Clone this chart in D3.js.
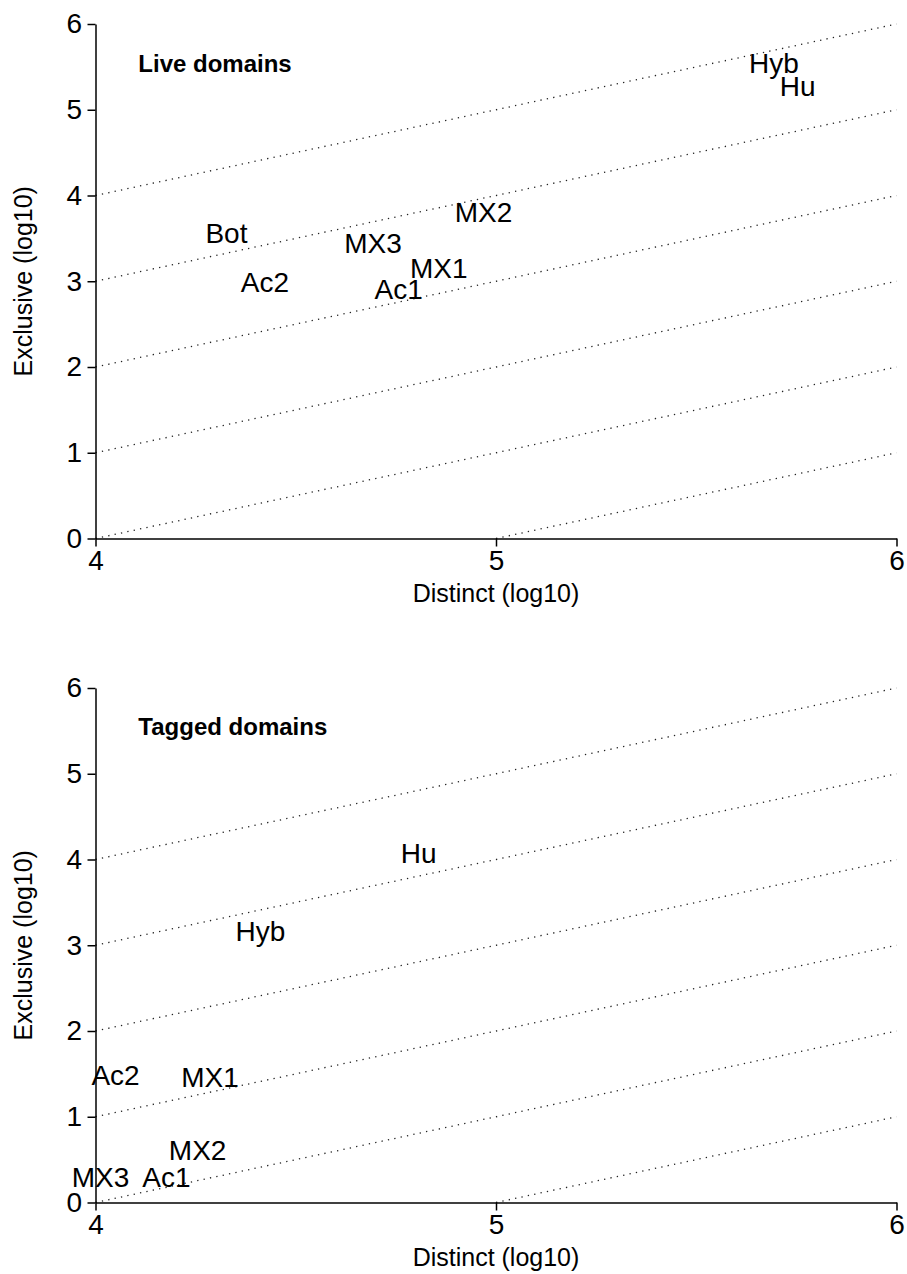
<!DOCTYPE html>
<html>
<head>
<meta charset="utf-8">
<script src="https://cdn.jsdelivr.net/npm/d3@7"></script>
<style>
  html, body { margin: 0; padding: 0; background: #fff; }
  svg { display: block; font-family: "Liberation Sans", Arial, Helvetica, sans-serif; }
</style>
</head>
<body>
<svg id="chart" width="907" height="1274"></svg>
<script>
// Live domains: log10 distinct vs log10 exclusive
const liveNames     = ["Hyb", "Hu", "MX2", "Bot", "MX3", "MX1", "Ac2", "Ac1"];
const liveDistinct  = [5.694, 5.753, 4.969, 4.327, 4.693, 4.857, 4.423, 4.757];
const liveExclusive = [5.541, 5.273, 3.813, 3.568, 3.446, 3.154, 2.990, 2.915];

// Tagged domains
const taggedNames     = ["Hu", "Hyb", "Ac2", "MX1", "MX2", "MX3", "Ac1"];
const taggedDistinct  = [4.807, 4.412, 4.050, 4.286, 4.255, 4.0125, 4.177];
const taggedExclusive = [4.080, 3.170, 1.482, 1.465, 0.607, 0.303, 0.303];

const panelTitles = ["Live domains", "Tagged domains"];
const xTicks = [4, 5, 6];
const yTicks = [0, 1, 2, 3, 4, 5, 6];
// reference lines: exclusive = distinct + offset
const lineOffsets = [-5, -4, -3, -2, -1, 0];

const xDomain = [4, 6], yDomain = [0, 6];
const svg = d3.select("#chart");

const panels = [
  { title: panelTitles[0], names: liveNames, xs: liveDistinct, ys: liveExclusive, top: 0 },
  { title: panelTitles[1], names: taggedNames, xs: taggedDistinct, ys: taggedExclusive, top: 664 }
];

panels.forEach(p => {
  const g = svg.append("g").attr("transform", `translate(0,${p.top})`);
  const x = d3.scaleLinear().domain(xDomain).range([95.5, 896.5]);
  const y = d3.scaleLinear().domain(yDomain).range([538.5, 24]);

  // dotted diagonal guides, clipped to the plotting region
  lineOffsets.forEach(b => {
    const x0 = Math.max(xDomain[0], yDomain[0] - b);
    const x1 = Math.min(xDomain[1], yDomain[1] - b);
    if (x1 <= x0) return;
    g.append("path")
      .datum([[x0, x0 + b], [x1, x1 + b]])
      .attr("d", d3.line().x(d => x(d[0])).y(d => y(d[1])))
      .attr("fill", "none")
      .attr("stroke", "#222")
      .attr("stroke-width", 1.3)
      .attr("stroke-dasharray", "1.3,5.2");
  });

  // axes
  const yAxis = g.append("g").attr("transform", "translate(95.5,0)")
    .call(d3.axisLeft(y).tickValues(yTicks).tickFormat(d3.format("d"))
      .tickSize(8).tickSizeOuter(0).tickPadding(5.5));
  const xAxis = g.append("g").attr("transform", "translate(0,538.5)")
    .call(d3.axisBottom(x).tickValues(xTicks).tickFormat(d3.format("d"))
      .tickSize(8).tickSizeOuter(0).tickPadding(3.5));
  [xAxis, yAxis].forEach(a => {
    a.selectAll("path, line").attr("stroke", "#000").attr("stroke-width", 1.5);
    a.selectAll("text").attr("font-size", 28).attr("fill", "#000")
      .attr("font-family", "Liberation Sans, Arial, sans-serif");
  });

  // axis titles
  g.append("text")
    .attr("x", (x.range()[0] + x.range()[1]) / 2)
    .attr("y", 601.5)
    .attr("text-anchor", "middle")
    .attr("font-size", 25)
    .text("Distinct (log10)");
  g.append("text")
    .attr("transform", `translate(32,${(y.range()[0] + y.range()[1]) / 2}) rotate(-90)`)
    .attr("text-anchor", "middle")
    .attr("font-size", 25)
    .text("Exclusive (log10)");

  // panel title
  g.append("text")
    .attr("x", x(4.107))
    .attr("y", y(p.top ? 5.556 : 5.54))
    .attr("dy", "0.358em")
    .attr("font-size", 24)
    .attr("font-weight", "bold")
    .text(p.title);

  // sample labels drawn at their points
  g.selectAll("text.lab")
    .data(p.names.map((n, i) => ({ n, dx: p.xs[i], ey: p.ys[i] })))
    .enter().append("text")
    .attr("class", "lab")
    .attr("x", d => x(d.dx))
    .attr("y", d => y(d.ey))
    .attr("dy", "0.358em")
    .attr("text-anchor", "middle")
    .attr("font-size", 28)
    .attr("fill", "#000")
    .text(d => d.n);
});
</script>
</body>
</html>
